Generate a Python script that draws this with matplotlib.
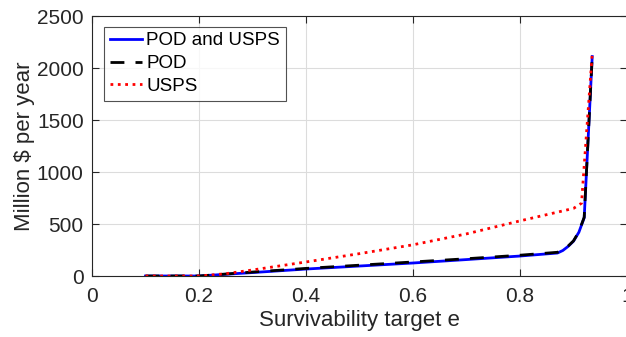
import matplotlib
matplotlib.use("Agg")
import matplotlib.pyplot as plt

# -------------------------------
# Data
# -------------------------------
e_vals = [0.10, 0.20, 0.30, 0.40, 0.50, 0.60, 0.70, 0.80, 0.87, 0.88, 0.89,
          0.90, 0.91, 0.92, 0.935]
pod_usps = [0, 0, 33, 67, 96, 125, 158, 192, 221, 245, 285, 335, 420, 560, 2110]
pod = [0, 0, 38, 73, 104, 135, 166, 200, 228, 250, 288, 338, 425, 565, 2110]
e_usps = [0.10, 0.20, 0.25, 0.30, 0.40, 0.50, 0.60, 0.70, 0.80, 0.90, 0.915, 0.935]
usps = [0, 0, 22, 58, 135, 215, 300, 405, 530, 650, 700, 2140]

x_ticks = [0, 0.2, 0.4, 0.6, 0.8, 1]
y_ticks = [0, 500, 1000, 1500, 2000, 2500]

plt.rcParams['font.family'] = ['Liberation Sans', 'DejaVu Sans']

fig = plt.figure(figsize=(6.26, 3.37), dpi=100)
ax = fig.add_axes([92 / 626, 61 / 337, 535 / 626, 260 / 337])

ax.plot(e_vals, pod_usps, '-', color='#0000ff', lw=2.0, label='POD and USPS')
ax.plot(e_vals, pod, '--', color='black', lw=2.0, dashes=(5, 4), label='POD')
ax.plot(e_usps, usps, ':', color='#ff0000', lw=2.0, label='USPS')

ax.set_xlim(0, 1)
ax.set_ylim(0, 2500)
ax.set_xticks(x_ticks)
ax.set_xticklabels(['0', '0.2', '0.4', '0.6', '0.8', '1'])
ax.set_yticks(y_ticks)
ax.grid(True, color='#dcdcdc', lw=0.8)
ax.set_axisbelow(True)
ax.tick_params(direction='in', top=True, right=True, length=5,
               labelsize=15, colors='#262626', width=0.8)
ax.tick_params(axis='x', pad=8)
ax.tick_params(axis='y', pad=6)
for s in ax.spines.values():
    s.set_color('#262626')
    s.set_linewidth(0.8)

ax.set_xlabel('Survivability target e', fontsize=16, color='#262626', labelpad=3)
ax.set_ylabel('Million $ per year', fontsize=16, color='#262626', labelpad=1)

leg = ax.legend(loc='upper left', bbox_to_anchor=(0.005, 0.995), fontsize=13.5,
                frameon=True, fancybox=False, handlelength=1.75,
                borderpad=0.3, labelspacing=0.3, handletextpad=0.2,
                borderaxespad=0.5)
leg.get_frame().set_edgecolor('#262626')
leg.get_frame().set_linewidth(0.8)

fig.savefig('out.png', dpi=100)
